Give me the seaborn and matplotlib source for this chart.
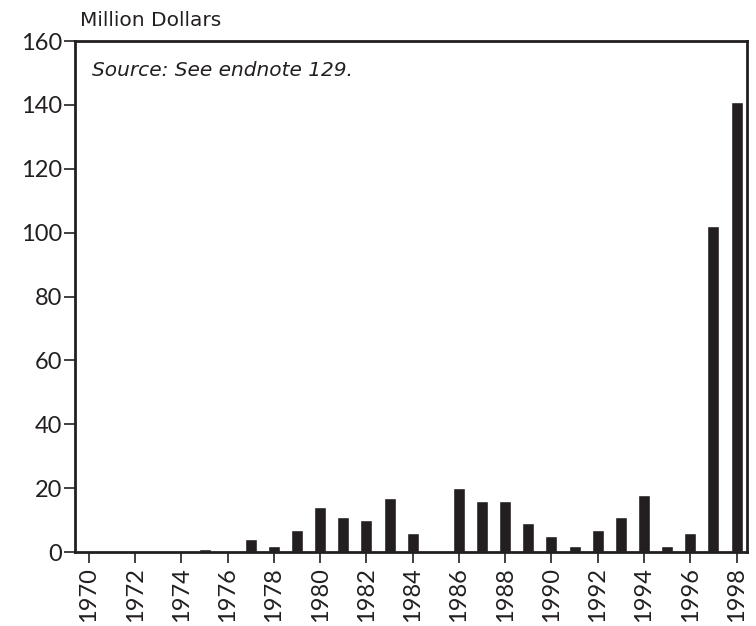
import numpy as np
import pandas as pd
import matplotlib
matplotlib.use("Agg")
import matplotlib.pyplot as plt
import seaborn as sns

years = list(range(1970, 1999))
values = [0, 0, 0, 0, 0, 1, 0, 4, 2, 7, 14, 11, 10, 17, 6, 0,
          20, 16, 16, 9, 5, 2, 7, 11, 18, 2, 6, 102, 141]
yticks = [0, 20, 40, 60, 80, 100, 120, 140, 160]

sns.set_style("white")
plt.rcParams['font.family'] = ['Lato', 'DejaVu Sans']

df = pd.DataFrame({"year": [str(y) for y in years], "value": values})

fig = plt.figure(figsize=(7.56, 6.26), dpi=100)
ax = fig.add_axes([0.0992, 0.118, 0.8888, 0.8165])
sns.barplot(data=df, x="year", y="value", color="#231f20", width=0.52,
            saturation=1, ax=ax)

ax.set_xlim(-0.6, 28.45)
ax.set_ylim(0, 160)
ax.set_yticks(yticks)
ax.set_yticklabels([str(t) for t in yticks], fontsize=17, color="#231f20")
ax.set_xticks(range(0, len(years), 2))
ax.set_xticklabels([str(y) for y in years[::2]], rotation=90, fontsize=17,
                   color="#231f20")
ax.tick_params(axis="both", direction="out", length=8, width=1.2,
               color="#231f20", left=True, bottom=True)
ax.tick_params(axis="y", pad=1)
ax.tick_params(axis="x", pad=3)
ax.set_xlabel("")
ax.set_ylabel("")
for s in ax.spines.values():
    s.set_visible(True)
    s.set_color("#231f20")
    s.set_linewidth(2)

fig.text(0.106, 0.952, "Million Dollars", fontsize=14.5, color="#231f20",
         family="DejaVu Sans", ha="left", va="bottom")
ax.text(0.025, 0.96, "Source: See endnote 129.", transform=ax.transAxes,
        fontsize=14.5, style="italic", color="#231f20", family="DejaVu Sans",
        ha="left", va="top")

fig.savefig("out.png", dpi=100)
